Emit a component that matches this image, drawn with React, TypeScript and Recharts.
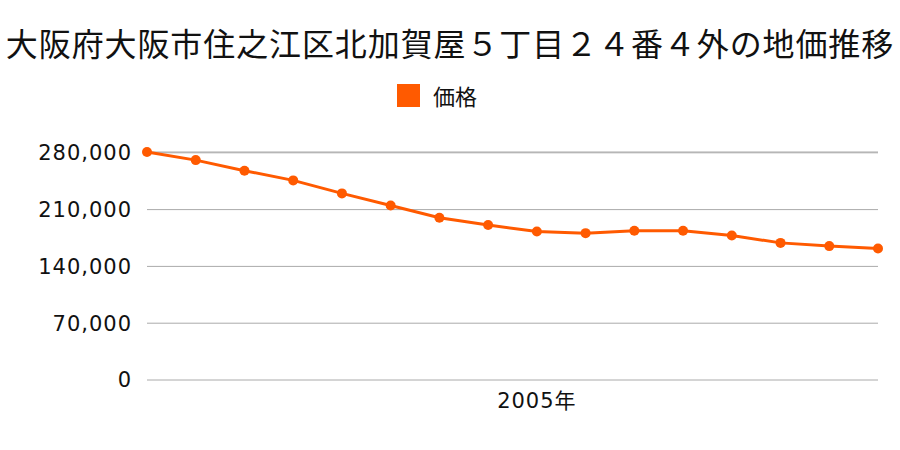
import { CartesianGrid, Line, LineChart, XAxis, YAxis } from "recharts";

const TITLE = "大阪府大阪市住之江区北加賀屋５丁目２４番４外の地価推移";
const SERIES_NAME = "価格";
const YEARS = [
  "1997", "1998", "1999", "2000", "2001", "2002", "2003", "2004",
  "2005", "2006", "2007", "2008", "2009", "2010", "2011", "2012",
];
const PRICES = [
  281000, 271000, 258000, 246000, 230000, 215000, 200000, 191000,
  183000, 181000, 184000, 184000, 178000, 169000, 165000, 162000,
];
const Y_TICKS = [0, 70000, 140000, 210000, 280000];
const X_TICKS = ["2005"];

const ORANGE = "#ff5a00";
const FONT = "'DejaVu Sans', 'Noto Sans CJK JP', sans-serif";
const CJK = "'Noto Sans CJK JP', sans-serif";
const data = YEARS.map((year, i) => ({ year, price: PRICES[i] }));

export default function App() {
  return (
    <div style={{ position: "absolute", left: 0, top: 0, width: 900, height: 450, background: "#fff" }}>
      <div
        style={{
          position: "absolute",
          top: 20,
          width: 900,
          textAlign: "center",
          fontSize: 32,
          letterSpacing: 0.9,
          lineHeight: "44px",
          fontFamily: CJK,
          color: "#111",
          whiteSpace: "nowrap",
        }}
      >
        {TITLE}
      </div>
      {/* 凡例 */}
      <div style={{ position: "absolute", top: 83, left: 397, height: 24, display: "flex", alignItems: "center" }}>
        <span style={{ width: 23, height: 23, background: ORANGE, display: "inline-block", marginRight: 13 }} />
        <span style={{ fontSize: 22, lineHeight: "24px", color: "#111", fontFamily: CJK }}>{SERIES_NAME}</span>
      </div>
      <LineChart width={900} height={450} data={data} margin={{ top: 152, right: 22, bottom: 0, left: 0 }}>
        <CartesianGrid stroke="#aaaaaa" vertical={false} />
        <XAxis
          dataKey="year"
          ticks={X_TICKS}
          tickFormatter={(v) => `${v}年`}
          axisLine={false}
          tickLine={false}
          tickSize={0}
          tickMargin={13}
          height={70}
          tick={{ fontSize: 21, fill: "#111", fontFamily: FONT, letterSpacing: 1 }}
        />
        <YAxis
          domain={[0, 280000]}
          ticks={Y_TICKS}
          tickFormatter={(v) => v.toLocaleString("en-US")}
          axisLine={false}
          tickLine={false}
          tickSize={0}
          tickMargin={15}
          width={147}
          tick={{ fontSize: 21, fill: "#111", fontFamily: FONT, letterSpacing: 1 }}
        />
        <Line
          type="linear"
          dataKey="price"
          name={SERIES_NAME}
          stroke={ORANGE}
          strokeWidth={3}
          dot={{ r: 5, fill: ORANGE, stroke: ORANGE, strokeWidth: 0 }}
          isAnimationActive={false}
        />
      </LineChart>
    </div>
  );
}
